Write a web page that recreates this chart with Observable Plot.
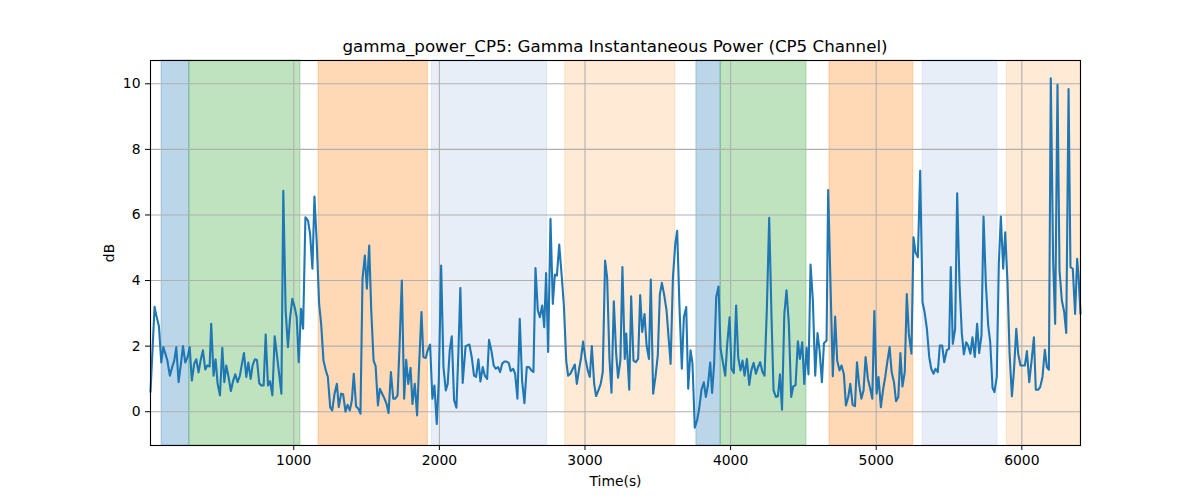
<!DOCTYPE html>
<html><head><meta charset="utf-8">
<script src="https://cdn.jsdelivr.net/npm/d3@7"></script>
<script src="https://cdn.jsdelivr.net/npm/@observablehq/plot@0.6"></script>
<style>
body{margin:0;background:#fff;font-family:"DejaVu Sans",sans-serif;}
#title{height:56px;box-sizing:border-box;padding-top:36px;line-height:20px;padding-left:150px;width:1080px;text-align:center;font-size:16.7px;color:#000;white-space:nowrap;}
</style></head><body>
<div id="title">gamma_power_CP5: Gamma Instantaneous Power (CP5 Channel)</div>
<div id="chart"></div>
<script>
const times = [16,44,51,74,90,104,118,132,149,165,179,193,209,225,239,255,271,285,300,316,330,346,360,376,392,406,422,433,449,463,477,493,509,523,536,552,568,584,598,614,630,644,658,674,688,704,717,733,747,763,777,793,807,823,837,853,869,883,899,915,928,944,960,974,990,1006,1020,1034,1050,1064,1080,1098,1112,1128,1142,1158,1174,1188,1204,1220,1234,1250,1264,1280,1296,1309,1325,1339,1355,1369,1385,1399,1412,1428,1444,1458,1472,1488,1502,1518,1532,1548,1562,1578,1591,1607,1623,1637,1651,1667,1683,1697,1713,1726,1742,1758,1772,1786,1802,1815,1831,1847,1861,1877,1890,1906,1920,1936,1952,1966,1982,1996,2012,2028,2044,2057,2071,2085,2101,2117,2131,2144,2160,2180,2206,2222,2238,2252,2268,2282,2298,2312,2328,2341,2357,2373,2387,2403,2417,2431,2447,2460,2476,2490,2506,2520,2536,2552,2568,2584,2600,2616,2632,2646,2660,2676,2690,2706,2720,2733,2747,2763,2779,2793,2807,2823,2839,2855,2871,2884,2900,2916,2930,2944,2960,2973,2987,3003,3019,3033,3047,3063,3076,3092,3108,3122,3138,3152,3168,3182,3198,3214,3227,3243,3257,3273,3283,3304,3317,3333,3349,3365,3379,3393,3409,3423,3439,3452,3468,3484,3500,3514,3528,3544,3560,3574,3588,3604,3620,3633,3649,3665,3679,3695,3709,3725,3738,3754,3770,3784,3800,3816,3830,3844,3860,3873,3887,3901,3917,3931,3947,3963,3977,3993,4006,4022,4038,4052,4068,4082,4096,4112,4128,4142,4158,4174,4187,4203,4219,4233,4249,4265,4281,4295,4311,4325,4339,4353,4369,4384,4400,4416,4430,4446,4462,4476,4492,4506,4522,4535,4549,4565,4581,4597,4611,4627,4641,4659,4670,4686,4702,4718,4732,4748,4762,4778,4792,4808,4822,4838,4854,4868,4882,4898,4913,4927,4943,4959,4973,4987,5003,5016,5032,5048,5062,5076,5092,5106,5122,5136,5152,5166,5180,5196,5210,5224,5242,5256,5270,5286,5302,5318,5332,5348,5364,5378,5394,5407,5423,5437,5453,5467,5485,5500,5512,5526,5542,5556,5572,5588,5602,5618,5631,5647,5661,5677,5693,5707,5723,5737,5753,5769,5783,5799,5812,5828,5842,5856,5872,5886,5902,5916,5932,5946,5962,5975,5991,6007,6021,6035,6051,6067,6083,6096,6112,6126,6142,6158,6172,6186,6199,6215,6229,6245,6259,6275,6291,6305,6321,6334,6350,6366,6380,6390,6403];
const values = [0.6,3.2,3.03,2.6,1.5,1.97,1.77,1.56,1.1,1.36,1.56,1.97,0.9,1.46,2.0,1.5,1.67,1.97,0.95,1.46,1.6,1.2,1.56,1.87,1.29,1.41,1.38,2.68,1.1,1.6,0.85,0.5,1.95,0.9,1.41,1.06,0.63,0.95,1.14,0.9,1.1,1.46,1.79,1.06,1.5,1.0,1.41,1.6,1.58,0.87,0.8,0.8,2.35,0.8,0.93,0.5,2.3,1.77,1.16,0.55,6.74,3.09,1.97,2.83,3.44,3.19,2.88,1.51,3.14,2.53,5.93,5.83,5.42,4.36,6.56,5.12,3.29,2.68,1.56,1.26,1.06,0.14,0.04,0.55,0.85,0.14,0.55,0.53,0.0,0.21,0.04,0.35,1.16,0.16,0.09,-0.06,4.05,4.76,3.75,5.07,3.09,1.56,1.39,0.19,0.7,0.55,0.4,0.24,-0.04,1.21,0.4,0.4,0.5,1.97,4.0,0.4,1.58,0.85,1.34,0.24,0.85,-0.11,1.46,3.04,1.67,1.64,1.87,2.05,0.4,0.8,-0.37,0.95,4.46,1.36,0.65,0.85,1.87,2.3,0.35,0.12,1.87,3.77,0.88,2.0,2.05,1.67,1.1,1.06,1.6,0.92,1.36,1.1,1.0,2.19,1.87,1.41,1.31,1.36,1.21,1.46,1.53,1.53,1.49,1.24,1.31,1.16,0.4,2.83,0.95,0.26,1.36,1.36,1.26,1.21,4.38,3.09,2.88,3.24,2.58,4.23,1.82,5.88,3.29,4.18,4.15,5.1,4.2,3.24,1.56,1.1,1.16,1.31,1.44,0.85,1.31,1.64,2.14,1.61,1.26,1.06,2.0,0.85,0.48,0.65,0.85,1.21,4.61,4.1,1.61,0.58,3.37,1.77,1.04,1.56,4.41,1.61,2.38,0.67,3.52,1.56,1.51,1.61,3.56,2.43,2.98,2.02,1.61,4.03,0.55,1.06,1.72,3.57,3.93,3.56,3.09,2.27,1.46,4.1,5.12,5.52,3.19,1.31,2.88,3.19,0.7,1.87,1.48,-0.49,-0.26,0.09,0.67,0.9,0.45,0.8,1.5,0.57,1.46,3.49,3.82,1.92,1.51,1.1,2.07,2.88,1.31,1.18,3.24,1.67,1.26,1.56,1.1,1.61,0.82,1.26,1.49,1.16,1.34,1.51,1.21,1.1,3.14,5.91,2.88,0.65,0.45,0.47,1.14,0.06,2.98,3.7,2.68,0.45,0.77,0.81,2.15,1.61,2.12,0.85,1.95,1.14,4.49,3.39,1.1,2.4,1.87,0.9,2.09,2.17,6.76,3.9,1.08,2.9,1.56,1.26,1.41,1.14,0.19,0.45,0.85,0.21,0.17,1.51,0.85,0.4,0.65,1.67,1.0,0.7,0.4,3.07,0.55,1.06,0.14,0.7,1.06,1.51,1.97,1.21,0.9,0.32,0.45,1.79,0.77,1.21,3.59,2.38,1.77,5.32,4.86,4.71,7.35,3.34,3.04,2.53,1.67,1.31,1.16,1.31,1.21,2.02,2.02,1.51,1.88,1.92,4.41,2.07,2.53,6.66,3.9,2.38,1.75,2.12,2.02,1.77,2.27,1.67,2.68,1.79,2.33,5.95,3.9,2.63,2.12,0.73,0.6,1.06,4.51,5.95,4.36,5.47,3.9,1.77,0.47,1.26,2.53,1.77,1.41,1.41,1.41,1.85,0.9,1.56,2.27,0.67,0.67,0.75,1.06,1.89,1.36,1.28,10.17,4.61,2.68,9.97,4.3,3.39,3.04,2.4,9.84,4.41,4.36,2.98,4.66,4.1,2.98];

const spanStarts = [92,283,1170,1949,2864,3765,3932,4679,5319,5897];
const spanEnds   = [283,1046,1921,2740,3620,3932,4521,5255,5833,6403];
const spanKinds  = ["A","B","C","D","E","A","B","C","D","E"];
const kindNames  = ["A","B","C","D","E"];
const kindColors = ["#1f77b4","#2ca02c","#ff7f0e","#aec7e8","#ffbb78"];

const xTicks = [1000,2000,3000,4000,5000,6000];
const yTicks = [0,2,4,6,8,10];

const data = times.map((t,i)=>({t, v: values[i]}));
const spans = spanStarts.map((s,i)=>({x1:s, x2:spanEnds[i], kind:spanKinds[i]}));

const chart = Plot.plot({
  width: 1200, height: 444,
  marginLeft: 150, marginRight: 120, marginTop: 4, marginBottom: 55,
  style: {fontFamily: "'DejaVu Sans', sans-serif", fontSize: "13.9px", color: "#000", background: "#fff", overflow: "visible"},
  x: {domain: [16, 6403]},
  y: {domain: [-1.03, 10.71]},
  color: {domain: kindNames, range: kindColors},
  marks: [
    Plot.rect(spans, {x1: "x1", x2: "x2", fill: "kind", fillOpacity: 0.3, stroke: "kind", strokeOpacity: 0.3, strokeWidth: 1}),
    Plot.gridX(xTicks, {stroke: "#b0b0b0", strokeOpacity: 1, strokeWidth: 1.1}),
    Plot.gridY(yTicks, {stroke: "#b0b0b0", strokeOpacity: 1, strokeWidth: 1.1}),
    Plot.line(data, {x: "t", y: "v", stroke: "#1f77b4", strokeWidth: 2.1}),
    Plot.frame({stroke: "#000", strokeWidth: 1.1}),
    Plot.axisX(xTicks, {tickSize: 5, tickPadding: 5, tickFormat: d => String(d), label: "Time(s)", labelAnchor: "center", labelArrow: "none", labelOffset: 40, fontSize: 13.9}),
    Plot.axisY(yTicks, {tickSize: 5, tickPadding: 5, tickFormat: d => String(d), label: "dB", labelAnchor: "center", labelArrow: "none", labelOffset: 46, fontSize: 13.9})
  ]
});
document.getElementById("chart").appendChild(chart);
</script>
</body></html>
